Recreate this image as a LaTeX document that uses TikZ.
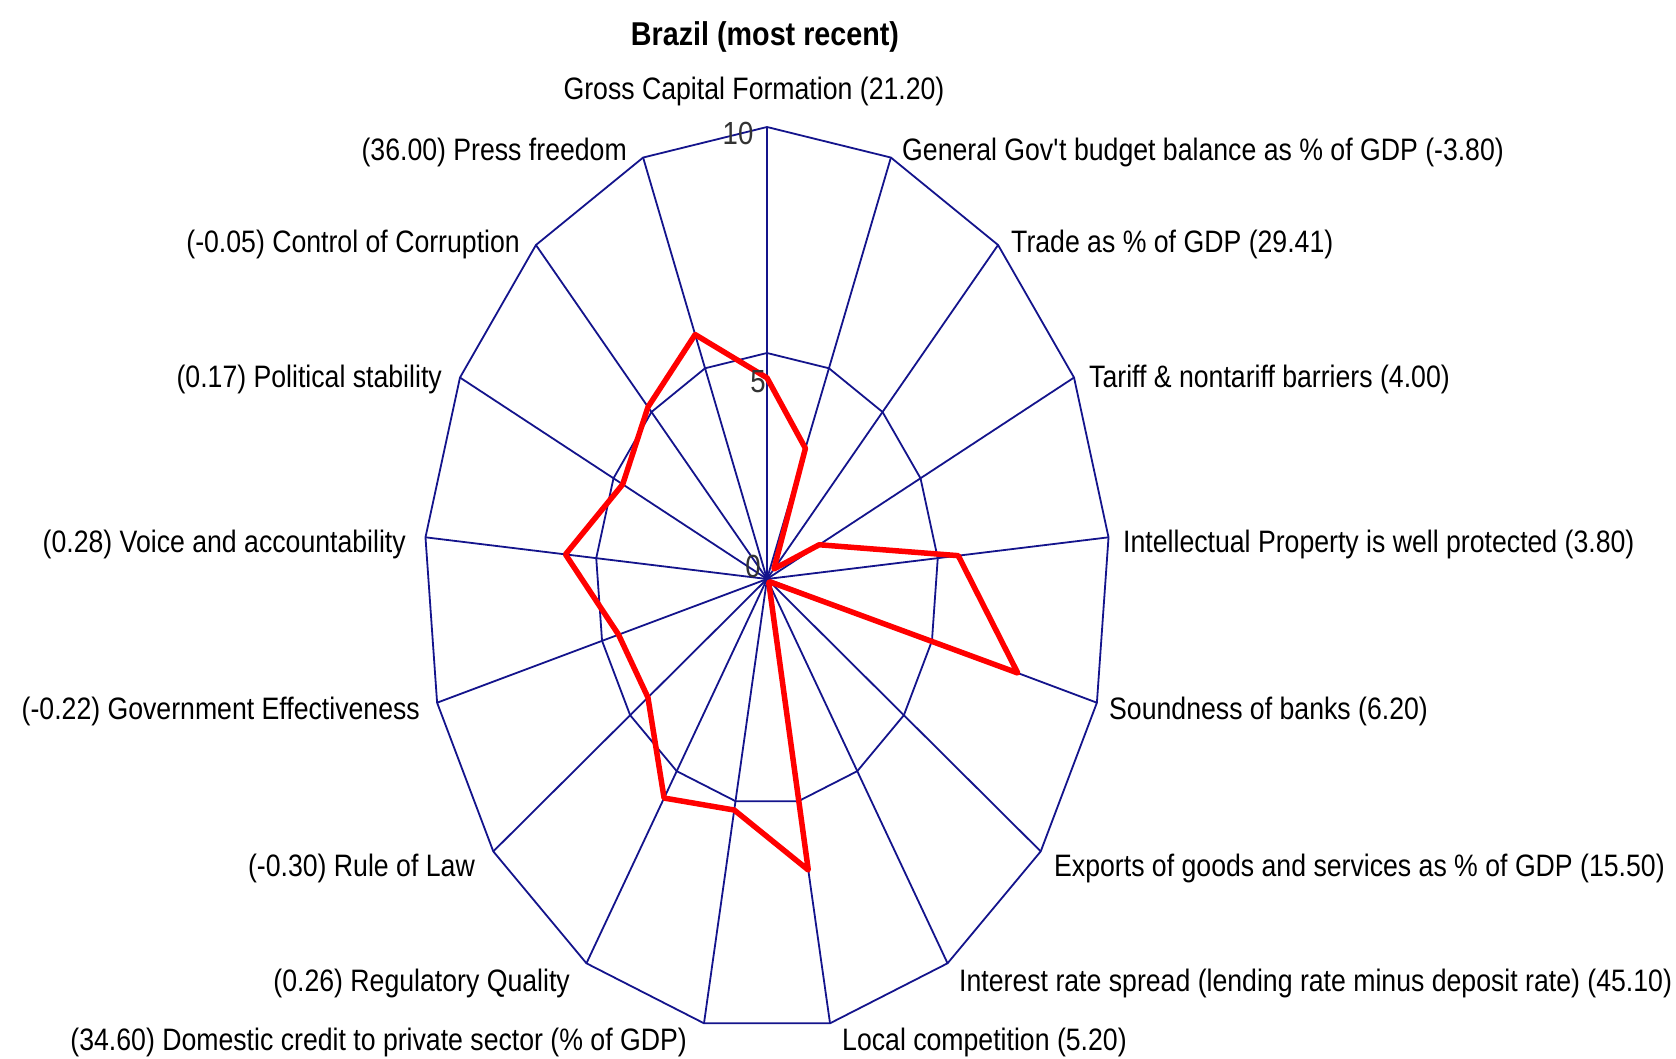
\documentclass[tikz,border=0pt]{standalone}
\usepackage{fontspec}
\setmainfont{Liberation Sans}[FakeStretch=0.86]
\newfontfamily\titlefont{Liberation Sans}[FakeStretch=0.87]
\definecolor{gridblue}{RGB}{20,20,140}
\definecolor{datared}{RGB}{255,0,0}
\begin{document}
\begin{tikzpicture}[x=1pt,y=-1pt,
  gridline/.style={draw=gridblue, line width=1.8pt},
  dataline/.style={draw=datared, line width=5.5pt, line join=round},
  lbl/.style={font=\fontsize{31}{36}\selectfont, inner sep=0pt, text=black},
  tick/.style={font=\fontsize{32}{36}\selectfont, inner sep=0pt, text=black!80}]
\useasboundingbox (0,0) rectangle (1676,1058);
\fill[white] (0,0) rectangle (1676,1058);
\def\cx{767}\def\cy{579}\def\rx{343}\def\ry{452}
\coordinate (c) at (\cx,\cy);
\foreach \i in {0,...,16} {
  \coordinate (o\i) at ({\cx+\rx*sin(\i*360/17)},{\cy-\ry*cos(\i*360/17)});
  \coordinate (m\i) at ({\cx+0.5*\rx*sin(\i*360/17)},{\cy-0.5*\ry*cos(\i*360/17)});
}
\foreach \i in {0,...,16} \draw[gridline] (c) -- (o\i);
\draw[gridline] (o0) -- (o1) -- (o2) -- (o3) -- (o4) -- (o5) -- (o6) -- (o7) -- (o8) -- (o9) -- (o10) -- (o11) -- (o12) -- (o13) -- (o14) -- (o15) -- (o16) -- cycle;
\draw[gridline] (m0) -- (m1) -- (m2) -- (m3) -- (m4) -- (m5) -- (m6) -- (m7) -- (m8) -- (m9) -- (m10) -- (m11) -- (m12) -- (m13) -- (m14) -- (m15) -- (m16) -- cycle;
\foreach \v [count=\i from 0] in {4.45,3.1,0.3,1.7,5.6,7.6,0.1,0.1,6.55,5.2,5.7,4.35,4.5,5.9,4.7,5.15,5.8}
  \coordinate (d\i) at ({\cx+\v/10*\rx*sin(\i*360/17)},{\cy-\v/10*\ry*cos(\i*360/17)});
\draw[dataline] (d0) -- (d1) -- (d2) -- (d3) -- (d4) -- (d5) -- (d6) -- (d7) -- (d8) -- (d9) -- (d10) -- (d11) -- (d12) -- (d13) -- (d14) -- (d15) -- (d16) -- cycle;
% scale ticks
\node[tick] (t10) at (738,133) {10};
\node[tick] (t5) at (758,382) {5};
\node[tick] (t0) at (753,566) {0};
% title
\node[font=\titlefont\bfseries\fontsize{33}{38}\selectfont, inner sep=0pt, anchor=base] (title) at (765,45) {Brazil (most recent)};
% labels
\node[lbl, anchor=base] (l0) at (754,99) {Gross Capital Formation (21.20)};
\node[lbl, anchor=base west] (l1) at (902,160) {General Gov\textquotesingle t budget balance as \% of GDP (-3.80)};
\node[lbl, anchor=base west] (l2) at (1011,252) {Trade as \% of GDP (29.41)};
\node[lbl, anchor=base west] (l3) at (1089,387) {Tariff \& nontariff barriers (4.00)};
\node[lbl, anchor=base west] (l4) at (1123,552) {Intellectual Property is well protected (3.80)};
\node[lbl, anchor=base west] (l5) at (1109,719) {Soundness of banks (6.20)};
\node[lbl, anchor=base west] (l6) at (1054,876) {Exports of goods and services as \% of GDP (15.50)};
\node[lbl, anchor=base west] (l7) at (959,991) {Interest rate spread (lending rate minus deposit rate) (45.10)};
\node[lbl, anchor=base west] (l8) at (842,1050) {Local competition (5.20)};
\node[lbl, anchor=base east] (l9) at (687,1050) {(34.60) Domestic credit to private sector (\% of GDP)};
\node[lbl, anchor=base east] (l10) at (570,991) {(0.26) Regulatory Quality};
\node[lbl, anchor=base east] (l11) at (475,876) {(-0.30) Rule of Law};
\node[lbl, anchor=base east] (l12) at (420,719) {(-0.22) Government Effectiveness};
\node[lbl, anchor=base east] (l13) at (406,552) {(0.28) Voice and accountability};
\node[lbl, anchor=base east] (l14) at (442,387) {(0.17) Political stability};
\node[lbl, anchor=base east] (l15) at (520,252) {(-0.05) Control of Corruption};
\node[lbl, anchor=base east] (l16) at (627,160) {(36.00) Press freedom};
\end{tikzpicture}
\end{document}
